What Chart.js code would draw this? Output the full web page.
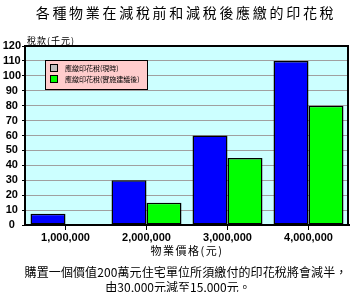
<!DOCTYPE html>
<html><head><meta charset="utf-8">
<script src="https://cdn.jsdelivr.net/npm/chart.js@4"></script>
<style>html,body{margin:0;padding:0;background:#fff}#wrap{width:350px;height:292px}</style>
</head><body><div id="wrap"><canvas id="c" width="350" height="292"></canvas></div>
<script>
const categories = ['1,000,000', '2,000,000', '3,000,000', '4,000,000'];
const seriesNames = ['應繳印花稅(現時)', '應繳印花稅(實施建議後)'];
const currentTax = [7.5, 30, 60, 110];
const proposedTax = [0.5, 15, 45, 80];
const yTickValues = [0, 10, 20, 30, 40, 50, 60, 70, 80, 90, 100, 110, 120];
const legendSwatches = ['#c0c0c0', '#00ff00'];
const titleText = '各種物業在減稅前和減稅後應繳的印花稅';
const yTitleText = '稅款(千元)';
const xTitleText = '物業價格(元)';
const footerLines = ['購置一個價值200萬元住宅單位所須繳付的印花稅將會減半，', '由30,000元減至15,000元。'];

const CJK = '"Noto Sans CJK TC", "Noto Sans CJK SC", sans-serif';

function drawText(ctx, text, x, y, font, spacing, align) {
  ctx.save();
  ctx.font = font;
  ctx.letterSpacing = spacing + 'px';
  ctx.fillStyle = '#000';
  ctx.textBaseline = 'middle';
  ctx.textAlign = 'left';
  const w = ctx.measureText(text).width;
  let sx = x;
  if (align === 'center') sx = x - w / 2;
  ctx.fillText(text, sx, y);
  ctx.restore();
}

const decor = {
  id: 'decor',
  beforeDraw(chart) {
    const ctx = chart.ctx, a = chart.chartArea;
    ctx.save();
    ctx.fillStyle = '#fff';
    ctx.fillRect(0, 0, chart.width, chart.height);
    ctx.fillStyle = '#ccffff';
    ctx.fillRect(a.left, a.top, a.right - a.left, a.bottom - a.top);
    ctx.restore();
  },
  afterDraw(chart) {
    const ctx = chart.ctx, a = chart.chartArea;
    ctx.save();
    ctx.strokeStyle = '#000';
    ctx.lineWidth = 2;
    ctx.beginPath();
    ctx.moveTo(a.left, a.top); ctx.lineTo(a.right - 1, a.top); ctx.lineTo(a.right - 1, a.bottom);
    ctx.stroke();
    // legend
    const lx = 45, ly = 60, lw = 102, lh = 29;
    ctx.fillStyle = '#ffcccc';
    ctx.fillRect(lx, ly, lw, lh);
    ctx.lineWidth = 1;
    ctx.strokeRect(lx + 0.5, ly + 0.5, lw, lh);
    seriesNames.forEach((name, i) => {
      const y = ly + 8 + i * 11;
      ctx.fillStyle = legendSwatches[i];
      ctx.fillRect(lx + 6, y - 3, 6, 6);
      ctx.strokeStyle = '#000';
      ctx.strokeRect(lx + 5.5, y - 3.5, 7, 7);
      drawText(ctx, name, lx + 20, y, '7px ' + CJK, 0, 'left');
    });
    ctx.restore();
    const cx = (a.left + a.right) / 2;
    drawText(ctx, titleText, 186, 13, '14px ' + CJK, 2.7, 'center');
    drawText(ctx, yTitleText, 27, 41, '9px ' + CJK, 1, 'left');
    drawText(ctx, xTitleText, cx, 251, '11px ' + CJK, 1.5, 'center');
    drawText(ctx, footerLines[0], 186, 272, '12px ' + CJK, 0.1, 'center');
    drawText(ctx, footerLines[1], 178, 287, '12px ' + CJK, 0, 'center');
  }
};

new Chart(document.getElementById('c'), {
  type: 'bar',
  data: {
    labels: categories,
    datasets: [
      { label: seriesNames[0], data: currentTax, backgroundColor: '#0000ff', borderColor: '#000', borderWidth: 1.5, borderSkipped: false },
      { label: seriesNames[1], data: proposedTax, backgroundColor: '#00ff00', borderColor: '#000', borderWidth: 1.5, borderSkipped: false }
    ]
  },
  options: {
    responsive: false,
    animation: false,
    devicePixelRatio: 1,
    layout: { padding: { top: 46, left: 0, right: 1, bottom: 0 } },
    plugins: { legend: { display: false }, title: { display: false }, tooltip: { enabled: false } },
    datasets: { bar: { categoryPercentage: 0.864, barPercentage: 1 } },
    scales: {
      x: {
        afterFit(s) { s.height = 67; },
        grid: { display: true, drawOnChartArea: false, offset: false, tickLength: 5, tickColor: '#000' },
        border: { color: '#000', width: 2 },
        ticks: { color: '#000', padding: 1, maxRotation: 0, font: { family: 'Arial, "Liberation Sans"', size: 11, weight: 'bold' } }
      },
      y: {
        min: 0, max: 120,
        afterFit(s) { s.width = 25; },
        afterBuildTicks(s) { s.ticks = yTickValues.map(v => ({ value: v })); },
        grid: { color: '#a0a0a0', lineWidth: 1, tickLength: 3, tickColor: '#000' },
        border: { color: '#000', width: 2 },
        ticks: { color: '#000', padding: 1, autoSkip: false, crossAlign: 'center', font: { family: 'Arial, "Liberation Sans"', size: 11, weight: 'bold' } }
      }
    }
  },
  plugins: [decor]
});
</script>
</body></html>
